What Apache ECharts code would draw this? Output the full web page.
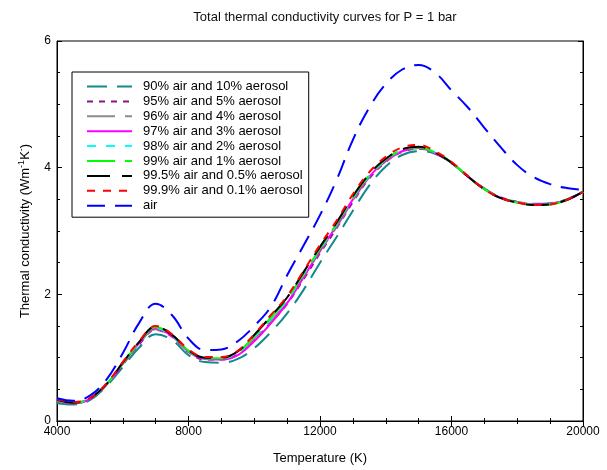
<!DOCTYPE html>
<html>
<head>
<meta charset="utf-8">
<script src="https://cdn.jsdelivr.net/npm/echarts@6/dist/echarts.min.js"></script>
<style>
  html, body { margin: 0; padding: 0; background: #fff; }
  #chart { width: 607px; height: 470px; }
</style>
</head>
<body>
<div id="chart"></div>
<script>
// temperature grid (K)
var temps = [4000, 4500, 5000, 5500, 6000, 6500, 7000, 7500, 8000, 8500, 9000, 9500, 10000, 10500, 11000, 11500,
  12000, 12500, 13000, 13500, 14000, 14500, 15000, 15500, 16000, 16500, 17000, 17500, 18000, 18500, 19000, 19500, 20000];

var names = ['90% air and 10% aerosol', '95% air and 5% aerosol', '96% air and 4% aerosol', '97% air and 3% aerosol',
  '98% air and 2% aerosol', '99% air and 1% aerosol', '99.5% air and 0.5% aerosol', '99.9% air and 0.1% aerosol', 'air'];

var air90 = [0.28, 0.26, 0.33, 0.55, 0.85, 1.16, 1.37, 1.28, 1.04, 0.93, 0.92, 0.98, 1.15, 1.40, 1.70, 2.07,
  2.50, 2.90, 3.32, 3.72, 4.02, 4.20, 4.26, 4.22, 4.07, 3.86, 3.67, 3.53, 3.46, 3.43, 3.44, 3.50, 3.62];
var air95 = [0.31, 0.28, 0.35, 0.57, 0.89, 1.21, 1.44, 1.33, 1.09, 0.97, 0.97, 1.05, 1.28, 1.55, 1.85, 2.24,
  2.65, 3.04, 3.46, 3.83, 4.09, 4.25, 4.30, 4.23, 4.07, 3.86, 3.67, 3.53, 3.46, 3.42, 3.43, 3.49, 3.62];
var air96 = [0.32, 0.28, 0.35, 0.57, 0.90, 1.22, 1.45, 1.34, 1.10, 0.98, 0.98, 1.06, 1.30, 1.58, 1.88, 2.27,
  2.68, 3.06, 3.48, 3.85, 4.10, 4.26, 4.31, 4.23, 4.08, 3.86, 3.66, 3.52, 3.45, 3.42, 3.43, 3.49, 3.62];
var air97 = [0.32, 0.28, 0.35, 0.57, 0.90, 1.23, 1.46, 1.34, 1.10, 0.98, 0.97, 1.04, 1.26, 1.54, 1.86, 2.27,
  2.69, 3.08, 3.50, 3.86, 4.11, 4.26, 4.31, 4.23, 4.08, 3.86, 3.66, 3.52, 3.45, 3.42, 3.43, 3.49, 3.62];
var air98 = [0.32, 0.29, 0.36, 0.58, 0.91, 1.24, 1.47, 1.35, 1.11, 0.99, 0.99, 1.08, 1.33, 1.61, 1.91, 2.31,
  2.71, 3.10, 3.52, 3.87, 4.12, 4.28, 4.32, 4.24, 4.08, 3.86, 3.66, 3.52, 3.45, 3.41, 3.42, 3.49, 3.62];
var air99 = [0.33, 0.29, 0.36, 0.58, 0.91, 1.24, 1.48, 1.36, 1.11, 0.99, 0.99, 1.09, 1.34, 1.63, 1.93, 2.32,
  2.72, 3.11, 3.53, 3.88, 4.13, 4.28, 4.32, 4.24, 4.08, 3.86, 3.66, 3.52, 3.45, 3.41, 3.42, 3.49, 3.62];
var air995 = [0.33, 0.29, 0.36, 0.58, 0.92, 1.25, 1.49, 1.36, 1.12, 1.00, 1.00, 1.10, 1.36, 1.65, 1.95, 2.35,
  2.75, 3.13, 3.55, 3.90, 4.14, 4.29, 4.33, 4.24, 4.08, 3.86, 3.66, 3.52, 3.45, 3.41, 3.42, 3.49, 3.62];
var air999 = [0.34, 0.30, 0.36, 0.59, 0.93, 1.26, 1.50, 1.37, 1.13, 1.01, 1.01, 1.11, 1.37, 1.67, 1.97, 2.37,
  2.78, 3.16, 3.58, 3.93, 4.17, 4.32, 4.36, 4.26, 4.09, 3.87, 3.66, 3.52, 3.45, 3.41, 3.42, 3.49, 3.62];
var airOnly = [0.36, 0.32, 0.40, 0.65, 1.07, 1.55, 1.85, 1.67, 1.30, 1.12, 1.13, 1.26, 1.50, 1.80, 2.30, 2.77,
  3.25, 3.80, 4.44, 4.95, 5.32, 5.55, 5.62, 5.50, 5.22, 4.95, 4.63, 4.32, 4.04, 3.85, 3.74, 3.68, 3.65];

var values = [air90, air95, air96, air97, air98, air99, air995, air999, airOnly];
var colors = ['#128a8a', '#8b168b', '#8c8c8c', '#ff00ff', '#00ffff', '#00ff00', '#000000', '#ff0000', '#0000ff'];
var dashes = [[20, 10], [6, 6], [28, 10], 'solid', [9, 10], [28, 10], [23, 12], [8, 8], [18, 10]];

var chart = echarts.init(document.getElementById('chart'));

var series = values.map(function (vals, i) {
  return {
    name: names[i],
    type: 'line',
    smooth: 0.4,
    showSymbol: false,
    symbol: 'none',
    data: temps.map(function (t, j) { return [t, vals[j]]; }),
    lineStyle: { color: colors[i], width: 2, type: dashes[i] },
    itemStyle: { color: colors[i] },
    z: 2
  };
});

var tickStyle = { inside: true, length: 5, lineStyle: { color: '#000' } };
var minor = { show: true, splitNumber: 4, length: 3, lineStyle: { color: '#000' } };
var plain = function (v) { return String(v); };

chart.setOption({
  animation: false,
  title: {
    text: 'Total thermal conductivity curves for P = 1 bar',
    left: 320, top: 6, textAlign: 'center',
    textStyle: { fontFamily: 'Liberation Sans', fontSize: 13, fontWeight: 'normal', color: '#111' }
  },
  grid: { left: 57, right: 24, top: 41, bottom: 49, show: true, borderColor: '#000', borderWidth: 1 },
  legend: {
    orient: 'vertical',
    left: 72, top: 72,
    icon: 'inherit',
    backgroundColor: '#fff',
    borderColor: '#000', borderWidth: 1,
    padding: [8, 6, 5, 14],
    itemWidth: 45, itemHeight: 10, itemGap: 1.9,
    itemStyle: { opacity: 0 },
    textStyle: { fontFamily: 'Liberation Sans', fontSize: 13, color: '#000', padding: [0, 0, 0, 6] },
    data: names
  },
  xAxis: [{
    type: 'value', min: 4000, max: 20000, interval: 4000,
    name: 'Temperature (K)', nameLocation: 'middle', nameGap: 31,
    nameTextStyle: { fontFamily: 'Liberation Sans', fontSize: 13, color: '#000' },
    axisLine: { show: true, lineStyle: { color: '#000' } },
    axisTick: tickStyle,
    minorTick: minor,
    axisLabel: { fontFamily: 'Liberation Sans', fontSize: 12, color: '#000', margin: 5, formatter: plain },
    splitLine: { show: false }
  }, {
    type: 'value', position: 'top', min: 4000, max: 20000, interval: 4000,
    axisLine: { show: true, lineStyle: { color: '#000' } },
    axisTick: tickStyle,
    minorTick: minor,
    axisLabel: { show: false },
    splitLine: { show: false }
  }],
  yAxis: [{
    type: 'value', min: 0, max: 6, interval: 2,
    name: '{a|Thermal conductivity (Wm}{s|-1}{a|K}{s|-}{a|)}',
    nameLocation: 'middle', nameGap: 23,
    nameTextStyle: {
      rich: {
        a: { fontFamily: 'Liberation Sans', fontSize: 13, color: '#000' },
        s: { fontFamily: 'Liberation Sans', fontSize: 9, color: '#000', padding: [0, 0, 8, 0] }
      }
    },
    axisLine: { show: true, lineStyle: { color: '#000' } },
    axisTick: tickStyle,
    minorTick: minor,
    axisLabel: { fontFamily: 'Liberation Sans', fontSize: 12, color: '#000', margin: 6 },
    splitLine: { show: false }
  }, {
    type: 'value', position: 'right', min: 0, max: 6, interval: 2,
    axisLine: { show: true, lineStyle: { color: '#000' } },
    axisTick: tickStyle,
    minorTick: minor,
    axisLabel: { show: false },
    splitLine: { show: false }
  }],
  series: series
});
</script>
</body>
</html>
